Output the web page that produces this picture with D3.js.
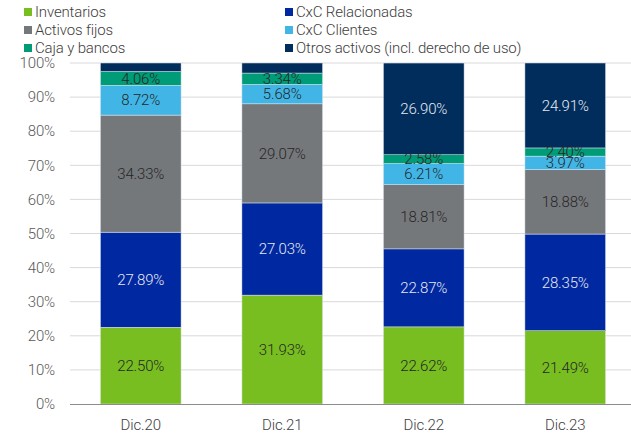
<!doctype html>
<html lang="es">
<head>
<meta charset="utf-8">
<title>Composición de activos</title>
<script src="https://cdn.jsdelivr.net/npm/d3@7"></script>
<style>
  body { margin: 0; background: #fff; }
  svg text { font-family: Roboto, "Liberation Sans", sans-serif; font-weight: 300; letter-spacing: -0.15px; }
</style>
</head>
<body>
<div id="chart"></div>
<script>
  const periods = ['Dic.20', 'Dic.21', 'Dic.22', 'Dic.23'];
  const seriesNames = ['Inventarios', 'CxC Relacionadas', 'Activos fijos', 'CxC Clientes', 'Caja y bancos', 'Otros activos (incl. derecho de uso)'];
  const inventarios = [22.50, 31.93, 22.62, 21.49];
  const cxcRelacionadas = [27.89, 27.03, 22.87, 28.35];
  const activosFijos = [34.33, 29.07, 18.81, 18.88];
  const cxcClientes = [8.72, 5.68, 6.21, 3.97];
  const cajaBancos = [4.06, 3.34, 2.58, 2.40];
  const otrosActivos = [2.50, 2.95, 26.90, 24.91];
  const showOtrosLabel = [false, false, true, true];
  const yTicks = [0, 10, 20, 30, 40, 50, 60, 70, 80, 90, 100];

  const colors = ['#78be20', '#0028a0', '#75787b', '#41b6e6', '#009b77', '#002d5c'];
  const labelColors = ['#262626', '#e6e9f2', '#262626', '#262626', '#262626', '#e6e9f2'];

  const width = 631, height = 434;
  const svg = d3.select('#chart').append('svg')
    .attr('width', width).attr('height', height);

  const x = d3.scaleBand()
    .domain(periods)
    .range([70, 636])
    .paddingInner(0.43)
    .paddingOuter(0.215);

  const y = d3.scaleLinear().domain([0, 100]).range([404, 63]);

  // gridlines
  svg.append('g').selectAll('line')
    .data(yTicks.filter(t => t > 0))
    .join('line')
    .attr('x1', 70).attr('x2', width)
    .attr('y1', d => y(d)).attr('y2', d => y(d))
    .attr('stroke', '#d9d9d9').attr('stroke-width', 1);

  // tick labels
  svg.append('g').selectAll('text')
    .data(yTicks)
    .join('text')
    .attr('x', 55).attr('y', d => y(d))
    .attr('dy', '0.35em')
    .attr('text-anchor', 'end')
    .attr('font-size', 15)
    .attr('fill', '#595959')
    .text(d => d + '%');

  const rows = periods.map((p, i) => ({
    period: p,
    s0: inventarios[i], s1: cxcRelacionadas[i], s2: activosFijos[i],
    s3: cxcClientes[i], s4: cajaBancos[i], s5: otrosActivos[i]
  }));
  const keys = ['s0', 's1', 's2', 's3', 's4', 's5'];
  const stacked = d3.stack().keys(keys)(rows);

  const layers = svg.append('g').selectAll('g')
    .data(stacked)
    .join('g')
    .attr('fill', (d, i) => colors[i]);

  layers.selectAll('rect')
    .data(d => d)
    .join('rect')
    .attr('x', d => x(d.data.period))
    .attr('width', x.bandwidth())
    .attr('y', d => y(d[1]))
    .attr('height', d => y(d[0]) - y(d[1]))
    .attr('stroke', '#dfe6f0')
    .attr('stroke-width', 0.5);

  // value labels (the reference keeps the overlapping small ones too)
  stacked.forEach((layer, li) => {
    svg.append('g').selectAll('text')
      .data(layer.filter((d, i) => li < 5 || showOtrosLabel[i]))
      .join('text')
      .attr('x', d => x(d.data.period) + x.bandwidth() / 2)
      .attr('y', d => y((d[0] + d[1]) / 2))
      .attr('dy', '0.35em')
      .attr('text-anchor', 'middle')
      .attr('font-size', 15)
      .attr('fill', labelColors[li])
      .text(d => (d[1] - d[0]).toFixed(2) + '%');
  });

  // x axis line
  svg.append('line')
    .attr('x1', 70).attr('x2', width)
    .attr('y1', y(0) + 0.5).attr('y2', y(0) + 0.5)
    .attr('stroke', '#8c8c8c').attr('stroke-width', 1);

  svg.append('g').selectAll('text')
    .data(periods)
    .join('text')
    .attr('x', d => x(d) + x.bandwidth() / 2)
    .attr('y', 430)
    .attr('text-anchor', 'middle')
    .attr('font-size', 15)
    .attr('fill', '#404040')
    .text(d => d);

  // legend
  const legendPos = [[24, 12], [285, 12], [24, 30], [285, 30], [24, 48], [285, 48]];
  const legend = svg.append('g').selectAll('g')
    .data(seriesNames)
    .join('g')
    .attr('transform', (d, i) => `translate(${legendPos[i][0]},${legendPos[i][1]})`);
  legend.append('rect')
    .attr('x', 0).attr('y', -4).attr('width', 8).attr('height', 8)
    .attr('fill', (d, i) => colors[i]);
  legend.append('text')
    .attr('x', 11).attr('dy', '0.35em')
    .attr('font-size', 15)
    .attr('fill', '#404040')
    .text(d => d);
</script>
</body>
</html>
